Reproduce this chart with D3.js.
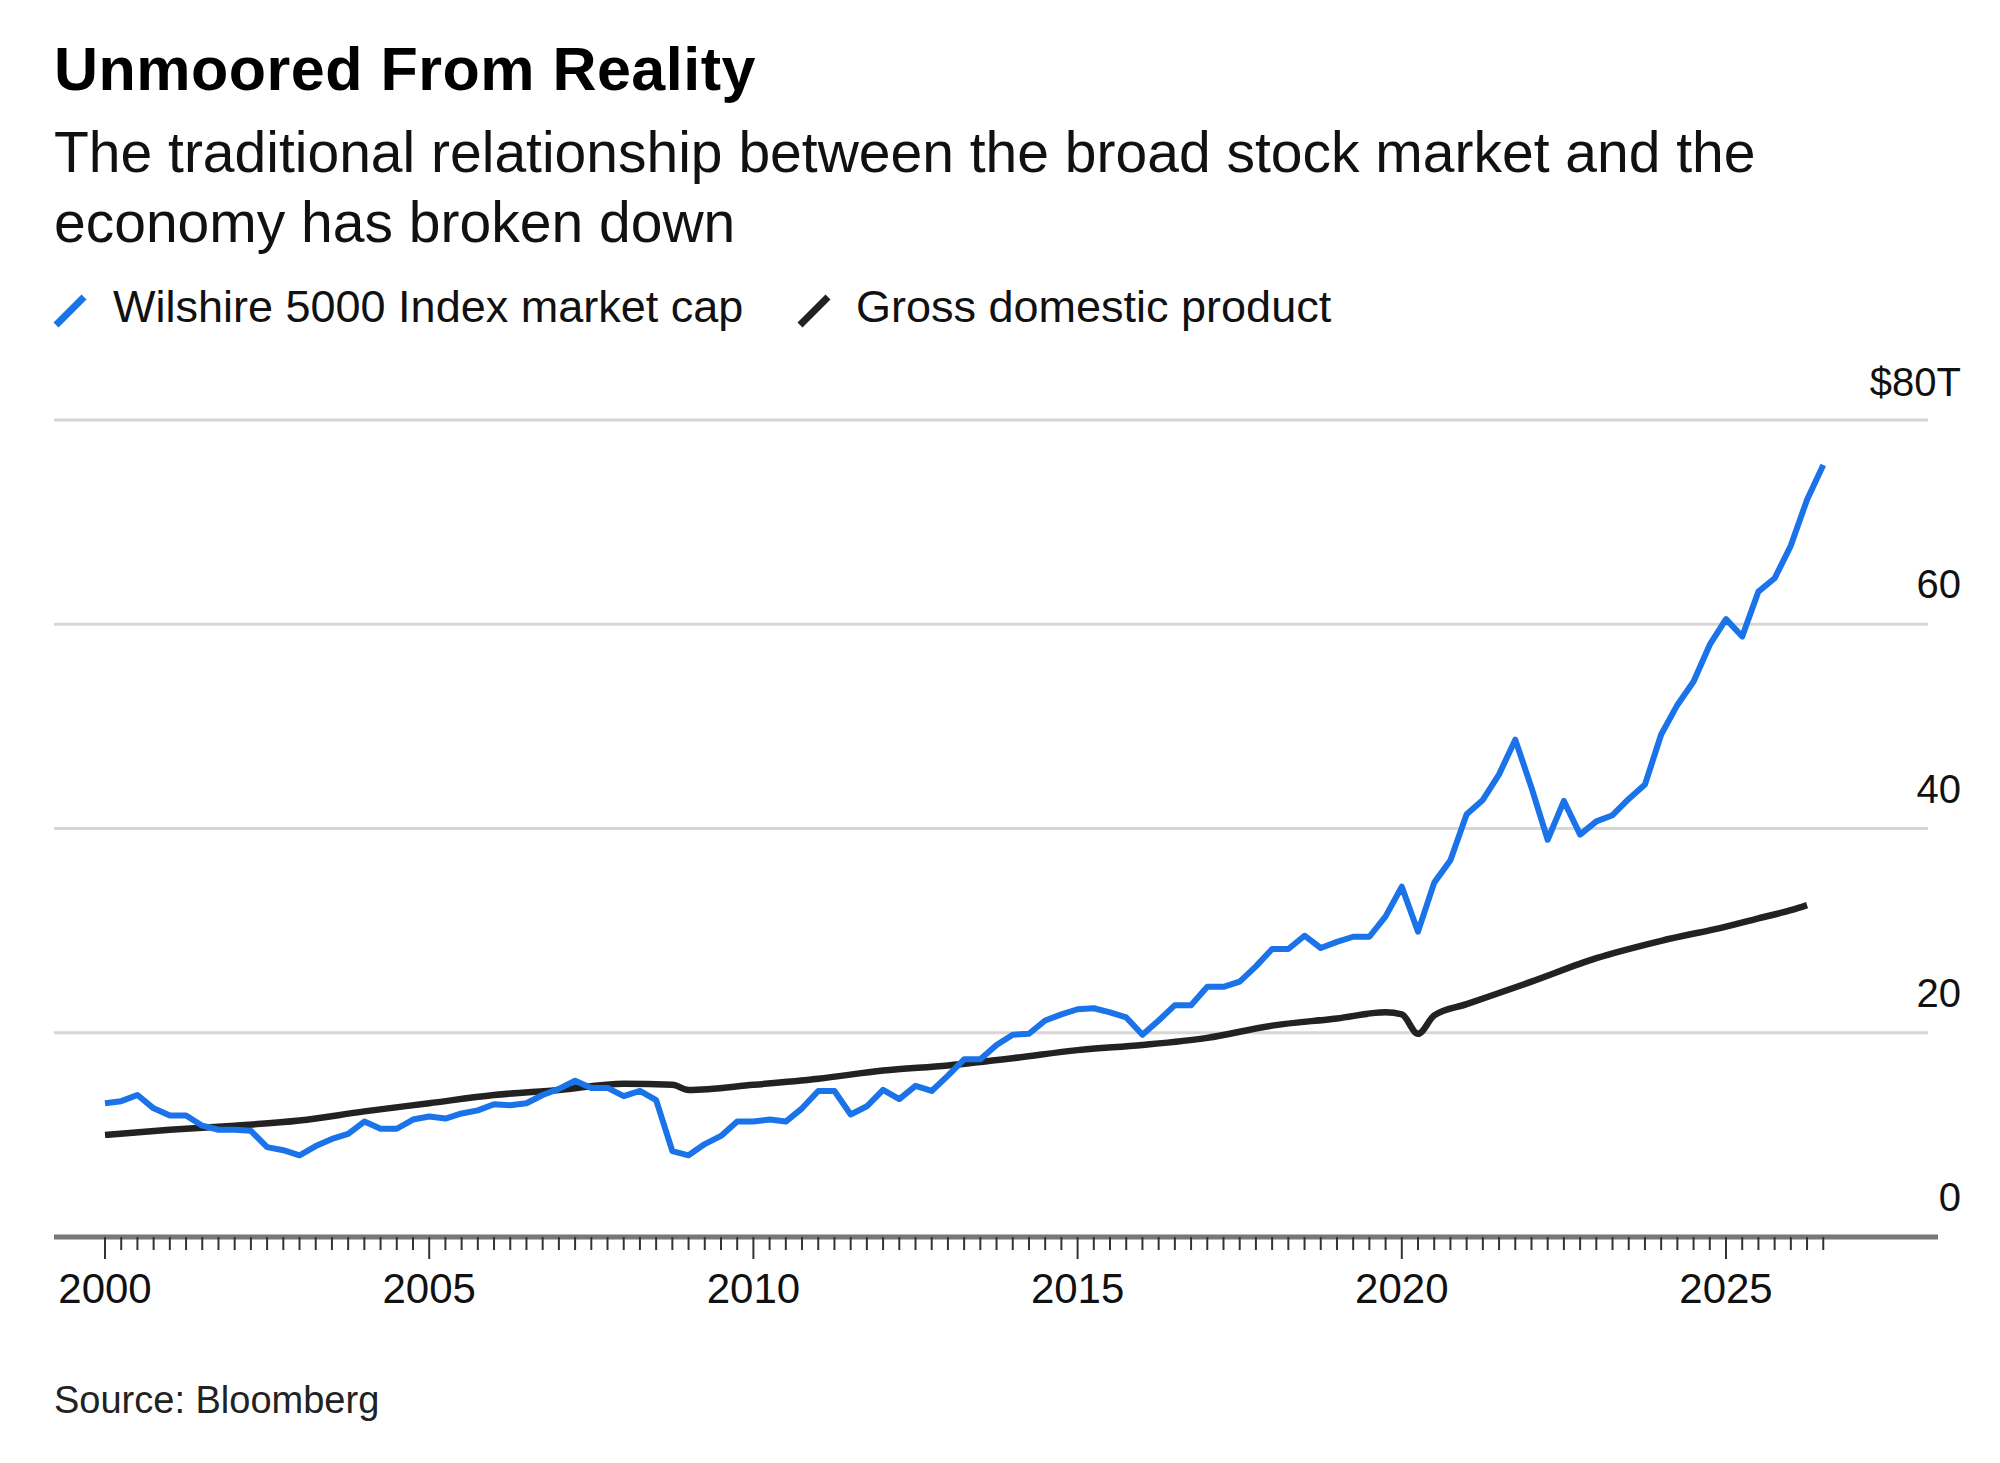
<!DOCTYPE html>
<html><head><meta charset="utf-8">
<script src="https://cdn.jsdelivr.net/npm/d3@7"></script>
<style>body{margin:0;background:#fff}svg{font-family:"Liberation Sans",Arial,sans-serif}</style>
</head><body><svg id="c" width="2000" height="1463"></svg>
<script>
const wilshireStart = 2000; // quarterly
const wilshire = [13.1,13.3,13.9,12.6,11.9,11.9,10.9,10.5,10.5,10.4,8.8,8.5,8.0,8.9,9.6,10.1,11.3,10.6,10.6,11.5,11.8,11.6,12.1,12.4,13.0,12.9,13.1,13.9,14.5,15.3,14.6,14.6,13.8,14.3,13.4,8.4,8.0,9.1,9.9,11.3,11.3,11.5,11.3,12.6,14.3,14.3,12.0,12.8,14.4,13.5,14.8,14.3,15.8,17.4,17.4,18.8,19.8,19.9,21.2,21.8,22.3,22.4,22.0,21.5,19.8,21.2,22.7,22.7,24.5,24.5,25.0,26.5,28.2,28.2,29.5,28.3,28.9,29.4,29.4,31.4,34.3,29.9,34.7,36.9,41.4,42.8,45.3,48.7,44.0,38.9,42.7,39.4,40.7,41.3,42.9,44.3,49.2,52.1,54.4,58.0,60.5,58.8,63.2,64.5,67.7,72.2,75.6];
const gdpDates = [2000,2001,2002,2003,2004,2005,2006,2007,2008,2008.75,2009,2010,2011,2012,2013,2014,2015,2016,2017,2018,2019,2019.75,2020,2020.25,2020.5,2021,2022,2023,2024,2025,2025.5,2026,2026.25];
const gdp = [10.0,10.5,10.9,11.4,12.3,13.1,13.9,14.4,15.0,14.9,14.4,14.9,15.5,16.3,16.8,17.5,18.3,18.8,19.5,20.7,21.4,22.0,21.8,19.9,21.7,22.8,25.0,27.3,29.0,30.4,31.2,32.0,32.5];
const yTicks = [0,20,40,60,80];
const xTicks = [2000,2005,2010,2015,2020,2025];
const legendLabels = ["Wilshire 5000 Index market cap","Gross domestic product"];
const colors = ["#1a73e8","#222222"];

const svg = d3.select("#c");
const x = d3.scaleLinear().domain([2000,2025]).range([105,1726]);
const y = d3.scaleLinear().domain([0,80]).range([1237,420]);

svg.append("text").attr("x",54).attr("y",90).attr("font-size",61).attr("font-weight","bold").attr("fill","#000").attr("letter-spacing","0.5").text("Unmoored From Reality");
svg.append("text").attr("x",54).attr("y",172).attr("font-size",57).attr("fill","#111").text("The traditional relationship between the broad stock market and the");
svg.append("text").attr("x",54).attr("y",242).attr("font-size",57).attr("fill","#111").text("economy has broken down");

const legX = [[56,113],[800,856]];
legendLabels.forEach((l,i)=>{
  svg.append("line").attr("x1",legX[i][0]).attr("y1",325).attr("x2",legX[i][0]+28).attr("y2",297).attr("stroke",colors[i]).attr("stroke-width",7);
  svg.append("text").attr("x",legX[i][1]).attr("y",322).attr("font-size",45).attr("fill","#111").text(l);
});

yTicks.forEach(t=>{
  if(t>0) svg.append("line").attr("x1",54).attr("x2",1928).attr("y1",y(t)).attr("y2",y(t)).attr("stroke","#d6d6d6").attr("stroke-width",3);
  svg.append("text").attr("x",1961).attr("y",y(t)-(t===80?24:26)).attr("text-anchor","end").attr("font-size",40).attr("fill","#111").text(t===80?"$80T":t);
});
svg.append("line").attr("x1",54).attr("x2",1938).attr("y1",y(0)).attr("y2",y(0)).attr("stroke","#777").attr("stroke-width",5);
d3.range(0,107).forEach(q=>{
  const yr = 2000+q/4;
  const major = q%20===0;
  svg.append("line").attr("x1",x(yr)).attr("x2",x(yr)).attr("y1",y(0)).attr("y2",y(0)+(major?22:13)).attr("stroke","#333").attr("stroke-width",2);
});
xTicks.forEach(t=>svg.append("text").attr("x",x(t)).attr("y",1303).attr("text-anchor","middle").attr("font-size",42).attr("fill","#111").text(t));

const line = d3.line().x(d=>x(d[0])).y(d=>y(d[1]));
svg.append("path").datum(gdp.map((v,i)=>[gdpDates[i],v])).attr("d",line.curve(d3.curveMonotoneX)).attr("fill","none").attr("stroke",colors[1]).attr("stroke-width",6.5);
svg.append("path").datum(wilshire.map((v,i)=>[wilshireStart+i/4,v])).attr("d",line.curve(d3.curveLinear)).attr("fill","none").attr("stroke",colors[0]).attr("stroke-width",6).attr("stroke-linejoin","round");

svg.append("text").attr("x",54).attr("y",1413).attr("font-size",38).attr("fill","#222").text("Source: Bloomberg");
</script></body></html>
